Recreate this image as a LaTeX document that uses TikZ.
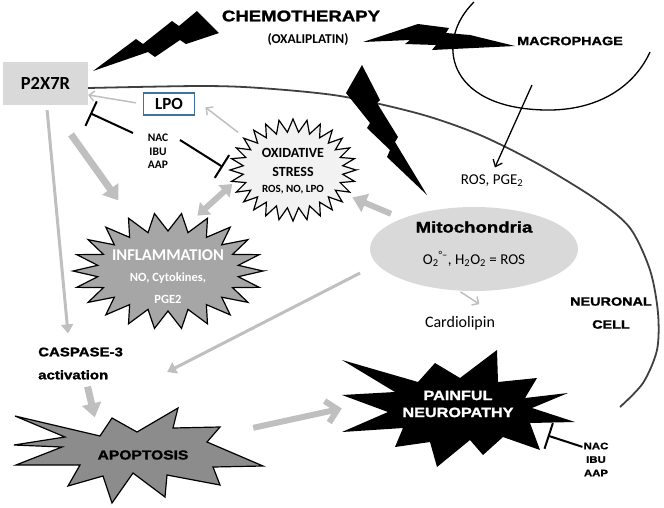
\documentclass[tikz,border=0pt]{standalone}
\usepackage{fontspec}
\setmainfont{Carlito}
\newfontfamily\arialblack{Liberation Sans}[FakeStretch=1.2,FakeBold=1.5]
\usetikzlibrary{arrows.meta,shapes.geometric}
\definecolor{arrowgray}{HTML}{BFBFBF}
\definecolor{boxgray}{HTML}{D9D9D9}
\definecolor{oxfill}{HTML}{F2F2F2}
\definecolor{inffill}{HTML}{A6A6A6}
\definecolor{apofill}{HTML}{8C8C8C}
\definecolor{lpoblue}{HTML}{41719C}
\definecolor{membrane}{HTML}{404040}
\begin{document}
\begin{tikzpicture}[x=1pt, y=-1pt,
    every node/.style={inner sep=1pt},
    shapenode/.style={ellipse, inner sep=0pt},
    graythin/.style={draw=arrowgray, line width=1.5pt, -{Straight Barb[length=5pt,width=10pt]}},
    graymid/.style={draw=arrowgray, line width=3pt, -{Triangle[length=9pt,width=12pt]}},
    grayfat/.style={draw=arrowgray, line width=7pt, -{Triangle[length=14pt,width=19pt]}},
    inhibit/.style={line width=2pt, -{Bar[width=27pt]}},
    bolt/.style={fill=black}]
    \useasboundingbox (0,0) rectangle (664,507);
    % cell membrane and macrophage
    \draw[membrane, line width=1.8pt] plot[smooth] coordinates {(88,88) (200,86) (260,88)
        (340,96) (420,114) (480,135) (540,165) (597,200) (630,228) (650,270) (658,313)
        (657,350) (643,383) (620,407)};%
    \draw[line width=1.3pt] (474,2) .. controls (435,40) and (445,108) .. (545,110)
        .. controls (600,111) and (635,85) .. (650,52);%
    % lightning bolts
    \fill[bolt] (93,71) -- (136,39) -- (143,44) -- (172,21) -- (179,26) -- (197,11)
        -- (219,33) -- (186,44) -- (180,40) -- (155,57) -- (148,52) -- cycle;%
    \fill[bolt] (363,42) -- (418,24) -- (449,28) -- (446,33) -- (470,35) -- (515,46)
        -- (432,50) -- (436,45) -- (405,44) -- (410,40) -- cycle;%
    \fill[bolt] (362,65) -- (380,100) -- (377,103) -- (398,137) -- (395,142) -- (427,195)
        -- (387,157) -- (390,150) -- (367,128) -- (370,123) -- (346,93) -- cycle;%
    % bursts
    \filldraw[shift={(293,170)}, fill=oxfill, line width=1.2pt] plot[samples=57, domain=0:360,
        variable=\t] ({(63-13*mod(round(\t/6.428571),2))*cos(\t)},
        {(51-13*mod(round(\t/6.428571),2))*sin(\t)}) -- cycle;%
    \filldraw[shift={(168,271)}, fill=inffill, line width=1.2pt] plot[samples=45, domain=0:360,
        variable=\t] ({(95-24*mod(round(\t/8.181818),2))*cos(\t)},
        {(58-18*mod(round(\t/8.181818),2))*sin(\t)}) -- cycle;%
    \filldraw[fill=apofill, line width=1.2pt] (15,416) -- (100,436) -- (112,418) -- (137,432)
        -- (178,408) -- (173,428) -- (220,427) -- (207,442) -- (263,466) -- (213,467)
        -- (220,485) -- (167,475) -- (165,497) -- (133,473) -- (112,503) -- (103,476)
        -- (68,486) -- (80,465) -- (16,465) -- (62,447) -- (14,445) -- (65,437) -- cycle;%
    \fill (342,360) -- (418,382) -- (435,363) -- (460,378) -- (497,350) -- (498,382)
        -- (537,378) -- (525,398) -- (568,393) -- (532,408) -- (575,422) -- (530,423)
        -- (540,450) -- (503,437) -- (483,455) -- (470,440) -- (437,467) -- (430,442)
        -- (395,447) -- (403,428) -- (342,432) -- (388,412) -- (342,395) -- (395,392) -- cycle;%
    % nodes
    \node[shapenode, minimum width=126pt, minimum height=102pt] (oxi) at (293,170) {};
    \node[shapenode, minimum width=190pt, minimum height=116pt] (inf) at (168,271) {};
    \node[shapenode, fill=boxgray, minimum width=208pt, minimum height=84pt] (mito) at (474,249) {};
    \node[shapenode, minimum width=249pt, minimum height=95pt] (apo) at (139,456) {};
    \node[shapenode, minimum width=233pt, minimum height=117pt] (pain) at (458.5,408.5) {};
    \node[fill=boxgray, minimum width=85pt, minimum height=43pt,
        font=\bfseries\fontsize{18.5}{20}\selectfont] (p2x) at (45.5,83.5) {P2X7R};
    \node[draw=lpoblue, fill=white, line width=1.2pt, minimum width=51pt, minimum height=22pt,
        font=\bfseries\fontsize{17}{19}\selectfont] (lpo) at (169,104) {LPO};
    \node[font=\arialblack\bfseries\fontsize{15.5}{18}\selectfont] (chemo) at (301,16) {CHEMOTHERAPY};
    \node[font=\bfseries\fontsize{13.5}{15}\selectfont] (oxa) at (308,40) {(OXALIPLATIN)};
    \node[font=\arialblack\bfseries\fontsize{12}{14}\selectfont] (macro) at (570,41) {MACROPHAGE};
    \node[font=\fontsize{15}{17}\selectfont] (ros) at (492,181) {ROS, PGE\textsubscript{2}};
    \node[align=center, font=\bfseries\fontsize{11.5}{13.5}\selectfont] (nac1) at (158,151.5)
        {NAC\\IBU\\AAP};
    \node[align=center, font=\bfseries\fontsize{14}{19}\selectfont] (oxname) at (293,162)
        {OXIDATIVE\\STRESS};
    \node[font=\bfseries\fontsize{11}{13}\selectfont] (oxsub) at (293,190) {ROS, NO, LPO};
    \node[text=white, font=\bfseries\fontsize{16.5}{18}\selectfont] (infname) at (168,255)
        {INFLAMMATION};
    \node[text=white, align=center, font=\bfseries\fontsize{12.5}{22}\selectfont] (infsub)
        at (168,288.5) {NO, Cytokines,\\PGE2};
    \node[font=\arialblack\bfseries\fontsize{15.5}{18}\selectfont] (mitoname) at (474,227)
        {Mitochondria};
    \node[font=\fontsize{15}{17}\selectfont] (mitoros) at (474,259)
        {O\textsubscript{2}\textsuperscript{°–}, H\textsubscript{2}O\textsubscript{2} = ROS};
    \node[font=\fontsize{16}{18}\selectfont] (cardio) at (460,323) {Cardiolipin};
    \node[align=center, font=\arialblack\bfseries\fontsize{12}{23}\selectfont] (neuro)
        at (611,313) {NEURONAL\\CELL};
    \node[anchor=west, align=left, font=\arialblack\bfseries\fontsize{12.5}{23}\selectfont]
        (casp) at (37,363.5) {CASPASE-3\\activation};
    \node[font=\arialblack\bfseries\fontsize{13}{15}\selectfont] (apotext) at (143,455) {APOPTOSIS};
    \node[text=white, align=center, font=\arialblack\bfseries\fontsize{13.5}{17}\selectfont]
        (paintext) at (458,404) {PAINFUL\\NEUROPATHY};
    \node[align=center, font=\arialblack\bfseries\fontsize{9.5}{13.5}\selectfont] (nac2)
        at (596,459.5) {NAC\\IBU\\AAP};
    \coordinate (macin) at (532,85);
    % connectors
    \draw[line width=1.3pt, -{Straight Barb[length=6pt,width=10pt]}, shorten >=7pt] (macin) -- (ros.north);
    \draw[graythin, shorten <=7pt] (lpo.west) -- (p2x.-15);
    \draw[graythin, shorten <=8pt, shorten >=13pt] (oxi.146.5) -- (lpo.10);
    \draw[graythin, shorten <=2pt, shorten >=20pt] (mito.-110) -- (cardio.north east);
    \draw[inhibit] ([shift={(-25,-18.5)}]nac1.center) -- ([shift={(2,8)}]p2x.south east);
    \draw[inhibit] ([shift={(22,-11.5)}]nac1.center) -- ([shift={(-7,-3)}]oxi.west);
    \draw[inhibit, shorten >=-11pt] (nac2.137) -- (pain.-17);
    \draw[graymid, shorten <=5pt] (p2x.-87) -- ([shift={(31,-13)}]casp.north west);
    \draw[graymid, shorten <=19pt] (mito.-171) -- ([shift={(43,8.5)}]casp.east);
    \draw[grayfat, shorten <=36pt, shorten >=21pt] (p2x.-78) -- (inf.125.6);
    \draw[grayfat, line width=6pt, shorten <=12pt, shorten >=5pt] (mito.157) -- (oxi.-25);
    \draw[draw=arrowgray, line width=6pt, {Triangle[length=11pt,width=16pt]}-{Triangle[length=11pt,width=16pt]}]
        (inf.62) -- (oxi.-167);
    \draw[grayfat] ([shift={(7,6)}]casp.south) -- ([shift={(6,5)}]apo.139);
    \draw[draw=arrowgray, line width=6pt, -{Straight Barb[length=11pt,width=22pt]}, shorten <=10pt]
        (apo.14) -- (pain.west);
\end{tikzpicture}
\end{document}
